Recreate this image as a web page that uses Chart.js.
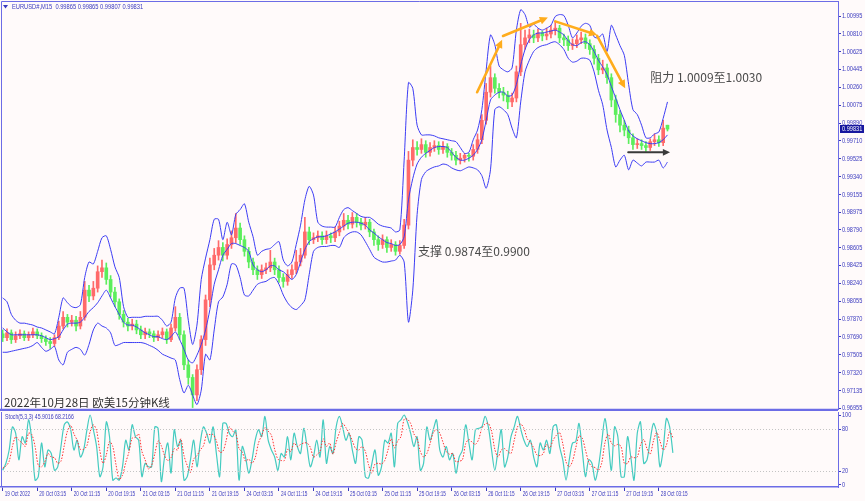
<!DOCTYPE html>
<html>
<head>
<meta charset="utf-8">
<script src="https://cdn.jsdelivr.net/npm/chart.js@4.4.1/dist/chart.umd.min.js"></script>
<style>
  html, body { margin: 0; padding: 0; background: #fffafa; }
  #wrap { position: relative; width: 865px; height: 501px; overflow: hidden; }
  .pane { position: absolute; left: 0; width: 865px; }
</style>
</head>
<body>
<div id="wrap">
  <div class="pane" style="top:0;height:411px"><canvas id="main"></canvas></div>
  <div class="pane" style="top:411px;height:90px"><canvas id="stoch"></canvas></div>
</div>
<script>
// ---- data (each candle = 4 x M15 bars) ----
const timeLabels = ['19 Oct 2022','20 Oct 03:15','20 Oct 11:15','20 Oct 19:15','21 Oct 03:15','21 Oct 11:15',
  '21 Oct 19:15','24 Oct 03:15','24 Oct 11:15','24 Oct 19:15','25 Oct 03:15','25 Oct 11:15','25 Oct 19:15',
  '26 Oct 03:15','26 Oct 11:15','26 Oct 19:15','27 Oct 03:15','27 Oct 11:15','27 Oct 19:15','28 Oct 03:15'];

const priceTicks = [1.00995,1.00810,1.00625,1.00445,1.00260,1.00075,0.99890,0.99710,0.99525,0.99340,0.99155,
  0.98975,0.98790,0.98605,0.98425,0.98240,0.98055,0.97870,0.97690,0.97505,0.97320,0.97135,0.96955];
const stochLevels = [0, 20, 80, 100];
const lastPrice = 0.99831;

const opens = [
  0.9772,0.9768,0.9773,0.9766,0.9770,0.9772,0.9768,0.9771,0.9774,0.9770,
  0.9767,0.9764,0.9762,0.9768,0.9780,0.9789,0.9784,0.9786,0.9780,0.9789,
  0.9817,0.9811,0.9819,0.9836,0.9840,0.9828,0.9815,0.9805,0.9792,0.9784,
  0.9780,0.9782,0.9776,0.9771,0.9774,0.9772,0.9768,0.9771,0.9774,0.9766,
  0.9778,0.9789,0.9771,0.9740,0.9727,0.9709,0.9735,0.9766,0.9807,0.9843,
  0.9853,0.9861,0.9853,0.9864,0.9871,0.9881,0.9869,0.9857,0.9846,0.9838,
  0.9833,0.9838,0.9840,0.9846,0.9838,0.9830,0.9826,0.9833,0.9838,0.9846,
  0.9853,0.9877,0.9869,0.9871,0.9873,0.9869,0.9873,0.9871,0.9877,0.9883,
  0.9889,0.9885,0.9892,0.9887,0.9884,0.9887,0.9877,0.9869,0.9864,0.9869,
  0.9861,0.9864,0.9857,0.9863,0.9884,0.9951,0.9964,0.9962,0.9967,0.9959,
  0.9964,0.9966,0.9962,0.9965,0.9959,0.9956,0.9951,0.9953,0.9956,0.9955,
  0.9962,0.9972,0.9992,1.0021,1.0036,1.0025,1.0021,1.0018,1.0011,1.0015,
  1.0042,1.0070,1.0077,1.0080,1.0077,1.0082,1.0079,1.0081,1.0085,1.0087,
  1.0077,1.0075,1.0069,1.0071,1.0075,1.0077,1.0071,1.0065,1.0056,1.0044,
  1.0046,1.0036,1.0013,0.9998,0.9987,0.9982,0.9974,0.9967,0.9968,0.9966,
  0.9964,0.9970,0.9972,0.9969,0.9987];
const highs = [
  0.9776,0.9777,0.9776,0.9774,0.9776,0.9775,0.9774,0.9778,0.9777,0.9773,
  0.9770,0.9768,0.9771,0.9785,0.9795,0.9792,0.9791,0.9790,0.9795,0.9826,
  0.9822,0.9826,0.9842,0.9848,0.9845,0.9832,0.9820,0.9808,0.9796,0.9788,
  0.9787,0.9786,0.9780,0.9778,0.9777,0.9775,0.9775,0.9778,0.9777,0.9782,
  0.9800,0.9793,0.9775,0.9745,0.9730,0.9740,0.9770,0.9812,0.9850,0.9860,
  0.9868,0.9866,0.9870,0.9878,0.9896,0.9886,0.9873,0.9861,0.9850,0.9842,
  0.9843,0.9845,0.9858,0.9850,0.9842,0.9834,0.9838,0.9843,0.9858,0.9860,
  0.9892,0.9882,0.9876,0.9878,0.9877,0.9878,0.9876,0.9882,0.9888,0.9896,
  0.9894,0.9897,0.9896,0.9891,0.9892,0.9890,0.9880,0.9873,0.9874,0.9872,
  0.9869,0.9867,0.9868,0.9890,0.9960,0.9972,0.9970,0.9973,0.9971,0.9969,
  0.9971,0.9970,0.9970,0.9968,0.9963,0.9960,0.9958,0.9958,0.9958,0.9967,
  0.9978,0.9998,1.0030,1.0048,1.0040,1.0030,1.0026,1.0022,1.0020,1.0048,
  1.0092,1.0085,1.0086,1.0085,1.0086,1.0084,1.0087,1.0090,1.0093,1.0090,
  1.0081,1.0079,1.0076,1.0080,1.0083,1.0081,1.0075,1.0069,1.0060,1.0054,
  1.0050,1.0040,1.0018,1.0002,0.9992,0.9986,0.9978,0.9973,0.9972,0.9970,
  0.9973,0.9978,0.9976,0.9992,0.9987];
const lows = [
  0.9764,0.9765,0.9762,0.9763,0.9767,0.9765,0.9765,0.9768,0.9767,0.9763,
  0.9760,0.9757,0.9759,0.9766,0.9777,0.9779,0.9780,0.9775,0.9777,0.9786,
  0.9805,0.9807,0.9815,0.9830,0.9823,0.9810,0.9800,0.9787,0.9779,0.9775,
  0.9776,0.9772,0.9767,0.9767,0.9768,0.9764,0.9765,0.9768,0.9762,0.9764,
  0.9775,0.9766,0.9735,0.9720,0.9696,0.9703,0.9730,0.9760,0.9800,0.9838,
  0.9848,0.9847,0.9849,0.9860,0.9866,0.9864,0.9852,0.9840,0.9833,0.9828,
  0.9829,0.9834,0.9836,0.9833,0.9825,0.9820,0.9822,0.9829,0.9834,0.9842,
  0.9850,0.9864,0.9865,0.9867,0.9864,0.9865,0.9866,0.9867,0.9873,0.9879,
  0.9880,0.9881,0.9882,0.9879,0.9880,0.9872,0.9863,0.9858,0.9860,0.9856,
  0.9857,0.9853,0.9854,0.9860,0.9880,0.9945,0.9956,0.9958,0.9954,0.9955,
  0.9960,0.9957,0.9958,0.9954,0.9951,0.9946,0.9947,0.9949,0.9950,0.9951,
  0.9958,0.9968,0.9988,1.0016,1.0020,1.0015,1.0012,1.0004,1.0006,1.0011,
  1.0038,1.0065,1.0072,1.0072,1.0073,1.0074,1.0075,1.0077,1.0080,1.0072,
  1.0069,1.0064,1.0065,1.0067,1.0071,1.0066,1.0060,1.0050,1.0039,1.0040,
  1.0030,1.0006,0.9990,0.9980,0.9976,0.9968,0.9962,0.9963,0.9962,0.9960,
  0.9961,0.9966,0.9965,0.9966,0.9981];
const closes = [
  0.9768,0.9773,0.9766,0.9770,0.9772,0.9768,0.9771,0.9774,0.9770,0.9767,
  0.9764,0.9762,0.9768,0.9780,0.9789,0.9784,0.9786,0.9780,0.9789,0.9817,
  0.9811,0.9819,0.9836,0.9840,0.9828,0.9815,0.9805,0.9792,0.9784,0.9780,
  0.9782,0.9776,0.9771,0.9774,0.9772,0.9768,0.9771,0.9774,0.9766,0.9778,
  0.9789,0.9771,0.9740,0.9727,0.9709,0.9735,0.9766,0.9807,0.9843,0.9853,
  0.9861,0.9853,0.9864,0.9871,0.9881,0.9869,0.9857,0.9846,0.9838,0.9833,
  0.9838,0.9840,0.9846,0.9838,0.9830,0.9826,0.9833,0.9838,0.9846,0.9853,
  0.9877,0.9869,0.9871,0.9873,0.9869,0.9873,0.9871,0.9877,0.9883,0.9889,
  0.9885,0.9892,0.9887,0.9884,0.9887,0.9877,0.9869,0.9864,0.9869,0.9861,
  0.9864,0.9857,0.9863,0.9884,0.9951,0.9964,0.9962,0.9967,0.9959,0.9964,
  0.9966,0.9962,0.9965,0.9959,0.9956,0.9951,0.9953,0.9956,0.9955,0.9962,
  0.9972,0.9992,1.0021,1.0036,1.0025,1.0021,1.0018,1.0011,1.0015,1.0042,
  1.0070,1.0077,1.0080,1.0077,1.0082,1.0079,1.0081,1.0085,1.0087,1.0077,
  1.0075,1.0069,1.0071,1.0075,1.0077,1.0071,1.0065,1.0056,1.0044,1.0046,
  1.0036,1.0013,0.9998,0.9987,0.9982,0.9974,0.9967,0.9968,0.9966,0.9964,
  0.9970,0.9972,0.9969,0.9984,0.9983];

// Bollinger bands
const bbUpper = [
  0.9809,0.9805,0.9792,0.9786,0.9783,0.9783,0.9782,0.9781,0.9779,0.9778,
  0.9776,0.9774,0.9772,0.9789,0.9809,0.9804,0.9800,0.9799,0.9802,0.9830,
  0.9846,0.9844,0.9857,0.9871,0.9873,0.9859,0.9841,0.9830,0.9800,0.9789,
  0.9789,0.9789,0.9789,0.9790,0.9790,0.9790,0.9790,0.9786,0.9780,0.9784,
  0.9809,0.9819,0.9819,0.9786,0.9761,0.9781,0.9828,0.9850,0.9869,0.9890,
  0.9890,0.9869,0.9887,0.9874,0.9895,0.9900,0.9906,0.9887,0.9872,0.9853,
  0.9857,0.9859,0.9860,0.9864,0.9867,0.9848,0.9842,0.9846,0.9864,0.9884,
  0.9910,0.9924,0.9915,0.9887,0.9883,0.9882,0.9882,0.9882,0.9892,0.9900,
  0.9902,0.9899,0.9896,0.9893,0.9892,0.9892,0.9889,0.9885,0.9883,0.9882,
  0.9881,0.9877,0.9879,0.9951,1.0031,1.0025,0.9987,0.9977,0.9977,0.9977,
  0.9976,0.9974,0.9973,0.9972,0.9971,0.9970,0.9964,0.9958,0.9959,0.9972,
  0.9982,1.0003,1.0044,1.0080,1.0070,1.0048,1.0044,1.0042,1.0046,1.0085,
  1.0106,1.0101,1.0088,1.0091,1.0087,1.0085,1.0087,1.0090,1.0099,1.0101,
  1.0100,1.0090,1.0077,1.0082,1.0089,1.0092,1.0090,1.0078,1.0077,1.0081,
  1.0063,1.0090,1.0080,1.0069,1.0059,1.0029,1.0003,0.9998,0.9987,0.9974,
  0.9974,0.9978,0.9980,0.9994,1.0011];
const bbMiddle = [
  0.9778,0.9774,0.9771,0.9771,0.9771,0.9771,0.9771,0.9771,0.9771,0.9770,
  0.9768,0.9766,0.9767,0.9769,0.9776,0.9782,0.9783,0.9783,0.9784,0.9789,
  0.9795,0.9799,0.9804,0.9811,0.9817,0.9809,0.9800,0.9792,0.9784,0.9781,
  0.9781,0.9779,0.9776,0.9773,0.9771,0.9769,0.9769,0.9767,0.9766,0.9769,
  0.9774,0.9766,0.9756,0.9745,0.9742,0.9750,0.9761,0.9776,0.9797,0.9823,
  0.9838,0.9853,0.9859,0.9865,0.9865,0.9863,0.9861,0.9857,0.9843,0.9838,
  0.9836,0.9838,0.9842,0.9842,0.9838,0.9836,0.9832,0.9828,0.9833,0.9846,
  0.9859,0.9867,0.9870,0.9872,0.9872,0.9873,0.9875,0.9877,0.9880,0.9883,
  0.9886,0.9887,0.9887,0.9886,0.9884,0.9879,0.9876,0.9872,0.9869,0.9866,
  0.9865,0.9863,0.9864,0.9872,0.9910,0.9932,0.9947,0.9954,0.9958,0.9961,
  0.9964,0.9965,0.9965,0.9964,0.9959,0.9954,0.9951,0.9951,0.9953,0.9956,
  0.9962,0.9972,0.9992,1.0013,1.0018,1.0021,1.0021,1.0017,1.0018,1.0029,
  1.0049,1.0065,1.0075,1.0080,1.0082,1.0082,1.0083,1.0084,1.0085,1.0083,
  1.0080,1.0074,1.0070,1.0069,1.0072,1.0073,1.0070,1.0063,1.0054,1.0047,
  1.0039,1.0027,1.0015,1.0003,0.9992,0.9981,0.9976,0.9973,0.9971,0.9969,
  0.9968,0.9968,0.9969,0.9972,0.9977];
const bbLower = [
  0.9753,0.9753,0.9754,0.9755,0.9756,0.9757,0.9758,0.9760,0.9763,0.9758,
  0.9754,0.9756,0.9759,0.9745,0.9740,0.9753,0.9756,0.9758,0.9756,0.9750,
  0.9761,0.9776,0.9783,0.9780,0.9778,0.9773,0.9760,0.9761,0.9763,0.9763,
  0.9763,0.9763,0.9763,0.9762,0.9760,0.9758,0.9755,0.9751,0.9749,0.9747,
  0.9745,0.9725,0.9711,0.9719,0.9709,0.9699,0.9714,0.9751,0.9745,0.9776,
  0.9805,0.9810,0.9823,0.9844,0.9843,0.9830,0.9812,0.9811,0.9817,0.9823,
  0.9825,0.9826,0.9829,0.9830,0.9823,0.9812,0.9804,0.9799,0.9797,0.9801,
  0.9807,0.9833,0.9857,0.9861,0.9862,0.9862,0.9863,0.9863,0.9861,0.9871,
  0.9875,0.9877,0.9877,0.9874,0.9867,0.9859,0.9851,0.9848,0.9846,0.9846,
  0.9847,0.9848,0.9853,0.9846,0.9784,0.9817,0.9895,0.9931,0.9939,0.9942,
  0.9944,0.9945,0.9947,0.9946,0.9943,0.9941,0.9940,0.9942,0.9944,0.9943,
  0.9941,0.9935,0.9922,0.9941,1.0003,1.0006,1.0003,0.9998,0.9984,0.9974,
  1.0011,1.0042,1.0054,1.0063,1.0067,1.0069,1.0070,1.0072,1.0073,1.0070,
  1.0065,1.0056,1.0052,1.0053,1.0056,1.0056,1.0054,1.0042,1.0023,1.0008,
  0.9982,0.9964,0.9944,0.9951,0.9956,0.9941,0.9951,0.9948,0.9945,0.9949,
  0.9949,0.9949,0.9951,0.9943,0.9949];

// Stochastic (5,3,3), one value every 3 M15 bars
const stochMain = [
  21,31,50,83,74,36,69,60,93,64,7,12,60,26,50,45,21,26,55,86,90,79,50,64,40,50,78,100,79,55,
  12,26,90,69,7,10,7,26,64,50,86,69,64,12,31,26,26,83,81,5,40,60,17,79,55,64,7,12,36,64,
  26,60,83,74,60,83,45,12,88,88,74,69,79,7,55,40,17,36,64,79,69,98,64,50,40,21,45,40,69,
  36,74,55,45,81,55,26,40,64,40,93,31,55,45,83,98,83,64,74,50,31,69,64,12,10,30,50,14,26,64,60,
  74,26,88,93,100,90,74,55,69,21,31,83,64,79,93,50,40,55,36,45,17,40,50,86,60,36,79,81,83,98,83,
  50,21,50,79,26,40,69,83,98,80,64,55,64,40,26,60,50,64,45,83,86,55,36,7,36,60,62,88,50,12,36,
  31,7,26,60,95,64,21,83,69,12,12,69,40,7,74,90,31,36,64,88,74,26,50,95,83,46];
const stochSignal = [
  24,27,34,55,69,64,60,55,74,72,55,28,26,33,45,40,39,31,34,56,77,85,73,64,51,51,56,76,86,78,
  49,31,43,62,55,29,8,14,32,47,67,68,73,48,36,23,28,45,63,56,42,35,39,52,50,66,42,28,18,37,
  42,50,56,72,72,72,63,47,48,63,83,77,74,52,47,34,37,31,39,60,71,82,77,71,51,37,35,35,51,
  48,60,55,58,60,60,54,40,43,48,66,55,60,44,61,75,88,82,74,63,52,50,55,48,29,17,30,31,30,35,
  50,66,53,63,69,94,94,88,73,66,48,40,45,59,75,79,74,61,48,44,45,33,34,36,59,65,61,58,65,81,
  87,88,77,51,40,50,52,48,45,64,83,87,81,66,61,53,43,42,45,58,53,64,71,75,59,33,26,34,53,70,
  67,50,33,26,25,21,31,60,73,60,56,58,55,31,31,40,39,40,57,65,52,44,63,75,63,50,57,76,68];

const header = 'EURUSD#,M15  0.99865 0.99865 0.99807 0.99831';
const stochHeader = 'Stoch(5,3,3) 45.9016 68.2166';
const caption = '2022年10月28日 欧美15分钟K线';
// [candle index, price]
const notes = [
  { text: '阻力 1.0009至1.0030', x: 150.0, y: 1.0036 },
  { text: '支撑 0.9874至0.9900', x: 96.2, y: 0.9857 }
];
const trendArrows = [
  [109.9, 1.0021, 115.7, 1.0075],
  [115.9, 1.0079, 126.3, 1.0098],
  [128.0, 1.0094, 137.7, 1.0080],
  [137.7, 1.0079, 144.2, 1.0025]
];
const flatArrow = [144.9, 0.9959, 154.6, 0.9959];

// ---- style ----
const UP = '#ff6a6a', DOWN = '#5cee5c';
const BAND = '#3c3cf4';
const AXIS = '#3a3abf';
const FRAME = '#6c6ce6';
const X_MIN = -0.39, X_MAX = 193.5;
const small = '"Liberation Sans", sans-serif';
const cjk = '"Noto Sans CJK SC", sans-serif';

const candleColor = closes.map((c, i) => c >= opens[i] ? UP : DOWN);
const bodies = closes.map((c, i) => ({ x: i, y: [opens[i], c] }));
const wicks = highs.map((h, i) => ({ x: i, y: [lows[i], h] }));
const pts = arr => arr.map((v, i) => ({ x: i, y: v }));
const band = arr => ({ type: 'line', data: pts(arr), borderColor: BAND, borderWidth: 1,
  pointRadius: 0, tension: 0.25 });

// narrow MT4-like label: squeeze horizontally
function squeezed(ctx, text, x, y, size, sx) {
  ctx.save();
  ctx.translate(x, y);
  ctx.scale(sx, 1);
  ctx.font = size + 'px ' + small;
  ctx.fillText(text, 0, 0);
  ctx.restore();
}

function arrow(ctx, x1, y1, x2, y2, color, w, head) {
  const a = Math.atan2(y2 - y1, x2 - x1);
  ctx.strokeStyle = color; ctx.fillStyle = color; ctx.lineWidth = w; ctx.lineCap = 'round';
  ctx.beginPath();
  ctx.moveTo(x1, y1);
  ctx.lineTo(x2 - Math.cos(a) * head * 0.8, y2 - Math.sin(a) * head * 0.8);
  ctx.stroke();
  ctx.beginPath();
  ctx.moveTo(x2, y2);
  ctx.lineTo(x2 - head * Math.cos(a - 0.45), y2 - head * Math.sin(a - 0.45));
  ctx.lineTo(x2 - head * Math.cos(a + 0.45), y2 - head * Math.sin(a + 0.45));
  ctx.closePath();
  ctx.fill();
}

const mainDecor = {
  id: 'mainDecor',
  afterDraw(chart) {
    const { ctx, chartArea: a, scales: { x, y } } = chart;
    ctx.save();
    // frame
    ctx.strokeStyle = FRAME; ctx.lineWidth = 1;
    ctx.beginPath();
    ctx.moveTo(a.left + 0.5, a.bottom); ctx.lineTo(a.left + 0.5, a.top + 0.5); ctx.lineTo(a.right, a.top + 0.5);
    ctx.stroke();
    ctx.lineWidth = 2.5;
    ctx.beginPath(); ctx.moveTo(0, a.bottom + 1); ctx.lineTo(a.right, a.bottom + 1); ctx.stroke();

    // symbol line
    ctx.fillStyle = AXIS;
    ctx.beginPath(); ctx.moveTo(3, 5); ctx.lineTo(8, 5); ctx.lineTo(5.5, 8.5); ctx.closePath(); ctx.fill();
    ctx.textBaseline = 'middle'; ctx.textAlign = 'left';
    squeezed(ctx, header, 12, 7, 7, 0.82);

    // price scale labels
    ctx.fillStyle = AXIS;
    priceTicks.forEach(v => squeezed(ctx, v.toFixed(5), a.right + 4, y.getPixelForValue(v), 7, 0.8));

    // hand drawn trend arrows
    trendArrows.forEach(t => arrow(ctx, x.getPixelForValue(t[0]), y.getPixelForValue(t[1]),
      x.getPixelForValue(t[2]), y.getPixelForValue(t[3]), '#ffac1c', 2.6, 9));
    arrow(ctx, x.getPixelForValue(flatArrow[0]), y.getPixelForValue(flatArrow[1]),
      x.getPixelForValue(flatArrow[2]), y.getPixelForValue(flatArrow[3]), '#3a3a3a', 2, 8);

    // notes
    ctx.fillStyle = '#4a4a4a'; ctx.font = '12px ' + cjk; ctx.textBaseline = 'middle';
    notes.forEach(n => ctx.fillText(n.text, x.getPixelForValue(n.x), y.getPixelForValue(n.y)));
    ctx.fillStyle = '#333'; ctx.font = '11.5px ' + cjk; ctx.textBaseline = 'alphabetic';
    ctx.fillText(caption, a.left + 3, a.bottom - 2);

    // last price tag
    const py = y.getPixelForValue(lastPrice);
    ctx.fillStyle = '#16169e';
    ctx.fillRect(a.right + 2, py - 4, 24, 8);
    ctx.fillStyle = '#ffffff'; ctx.textBaseline = 'middle';
    squeezed(ctx, lastPrice.toFixed(5), a.right + 4, py, 7, 0.8);
    ctx.restore();
  }
};

new Chart(document.getElementById('main'), {
  type: 'bar',
  data: {
    datasets: [
      band(bbMiddle), band(bbUpper), band(bbLower),
      { type: 'bar', data: bodies, backgroundColor: candleColor, grouped: false, barThickness: 3, maxBarThickness: 3 },
      { type: 'bar', data: wicks, backgroundColor: candleColor, grouped: false, barThickness: 1, maxBarThickness: 1 }
    ]
  },
  options: {
    responsive: true, maintainAspectRatio: false, animation: false,
    layout: { padding: { left: 1, top: 1, bottom: 2, right: 0 } },
    plugins: { legend: { display: false }, tooltip: { enabled: false } },
    scales: {
      x: { type: 'linear', min: X_MIN, max: X_MAX, offset: false, display: false },
      y: {
        position: 'right', min: 0.96945, max: 1.0115, beginAtZero: false,
        afterBuildTicks: s => { s.ticks = priceTicks.map(v => ({ value: v })); },
        afterFit: s => { s.width = 27; },
        grid: { drawOnChartArea: false, drawTicks: true, tickLength: 3, tickColor: AXIS },
        border: { display: true, color: FRAME, width: 1 },
        ticks: { display: false }
      }
    }
  },
  plugins: [mainDecor]
});

const stochDecor = {
  id: 'stochDecor',
  afterDraw(chart) {
    const { ctx, chartArea: a, scales: { x, y } } = chart;
    ctx.save();
    ctx.strokeStyle = '#c4c4c4'; ctx.lineWidth = 1; ctx.setLineDash([1, 2]);
    [80, 20].forEach(v => {
      const py = Math.round(y.getPixelForValue(v)) + 0.5;
      ctx.beginPath(); ctx.moveTo(a.left, py); ctx.lineTo(a.right, py); ctx.stroke();
    });
    ctx.setLineDash([]);
    ctx.strokeStyle = FRAME;
    ctx.beginPath(); ctx.moveTo(a.left + 0.5, a.top); ctx.lineTo(a.left + 0.5, a.bottom); ctx.stroke();
    ctx.fillStyle = AXIS; ctx.textBaseline = 'middle'; ctx.textAlign = 'left';
    squeezed(ctx, stochHeader, a.left + 4, a.top + 5, 6.5, 0.8);
    stochLevels.forEach(v => squeezed(ctx, String(v), a.right + 4, y.getPixelForValue(v), 6.5, 0.85));
    x.ticks.forEach((t, i) => squeezed(ctx, timeLabels[i], x.getPixelForValue(t.value) + 2, a.bottom + 7, 6.5, 0.72));
    ctx.restore();
  }
};

const stochPts = arr => arr.map((v, k) => ({ x: k * 0.75, y: v }));

new Chart(document.getElementById('stoch'), {
  type: 'line',
  data: {
    datasets: [
      { data: stochPts(stochSignal), borderColor: '#ff3030', borderWidth: 1, borderDash: [1.5, 1.5],
        pointRadius: 0, tension: 0.3 },
      { data: stochPts(stochMain), borderColor: '#45cbc0', borderWidth: 1.2, pointRadius: 0, tension: 0.3 }
    ]
  },
  options: {
    responsive: true, maintainAspectRatio: false, animation: false,
    layout: { padding: { left: 1, top: 1, bottom: 0, right: 0 } },
    plugins: { legend: { display: false }, tooltip: { enabled: false } },
    scales: {
      x: {
        type: 'linear', min: X_MIN, max: X_MAX, offset: false,
        afterBuildTicks: s => { s.ticks = timeLabels.map((t, j) => ({ value: j * 8 })); },
        afterFit: s => { s.height = 14; },
        grid: { drawOnChartArea: false, drawTicks: true, tickLength: 4, tickColor: AXIS },
        border: { display: true, color: FRAME, width: 1.5 },
        ticks: { display: false }
      },
      y: {
        position: 'right', min: -2.86, max: 104.3,
        afterBuildTicks: s => { s.ticks = stochLevels.map(v => ({ value: v })); },
        afterFit: s => { s.width = 27; },
        grid: { drawOnChartArea: false, drawTicks: true, tickLength: 3, tickColor: AXIS },
        border: { display: true, color: FRAME, width: 1 },
        ticks: { display: false }
      }
    }
  },
  plugins: [stochDecor]
});
</script>
</body>
</html>
